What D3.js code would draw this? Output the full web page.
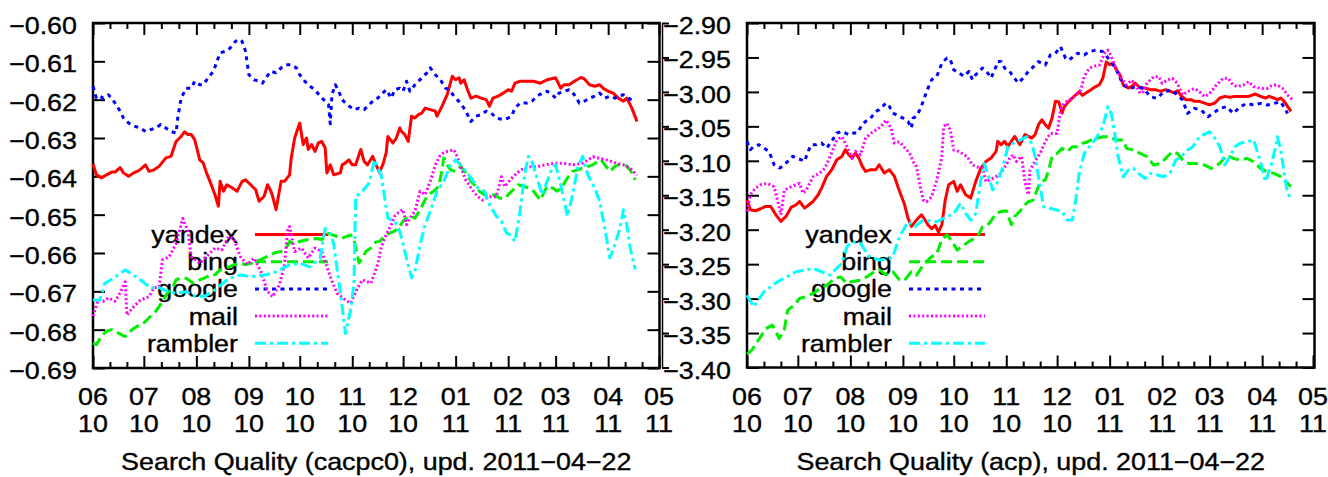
<!DOCTYPE html>
<html>
<head>
<meta charset="utf-8">
<script src="https://cdn.jsdelivr.net/npm/d3@7"></script>
<style>
  html, body { margin: 0; padding: 0; background: #fff; }
  svg { display: block; }
</style>
</head>
<body>
<div id="chart"></div>
<script>
// Search quality, two panels (cacpc0 and acp).
// x of every point = days since 2010-06-01

const seriesNames = ["yandex", "bing", "google", "mail", "rambler"];
const months = ["2010-06-01", "2010-07-01", "2010-08-01", "2010-09-01", "2010-10-01", "2010-11-01",
  "2010-12-01", "2011-01-01", "2011-02-01", "2011-03-01", "2011-04-01", "2011-05-01"];
const cacpcTicks = [-0.60, -0.61, -0.62, -0.63, -0.64, -0.65, -0.66, -0.67, -0.68, -0.69];
const acpTicks = [-2.90, -2.95, -3.00, -3.05, -3.10, -3.15, -3.20, -3.25, -3.30, -3.35, -3.40];

// ---- left panel: cacpc0 ----
const yandexCacpc = [[0,-0.6368],[2,-0.6396],[5,-0.6404],[8,-0.6396],[11,-0.6389],[13,-0.6389],[16,-0.6377],[18,-0.6391],[21,-0.6400],[24,-0.6391],[27,-0.6385],[29,-0.6378],[31,-0.6370],[33,-0.6387],[36,-0.6383],[39,-0.6374],[43,-0.6352],[46,-0.6348],[49,-0.6309],[52,-0.6296],[54,-0.6284],[56,-0.6291],[58,-0.6291],[60,-0.6304],[63,-0.6357],[65,-0.6365],[67,-0.6391],[69,-0.6413],[72,-0.6448],[74,-0.6478],[75,-0.6413],[77,-0.6439],[79,-0.6422],[82,-0.6430],[85,-0.6439],[88,-0.6413],[90,-0.6409],[93,-0.6422],[96,-0.6435],[98,-0.6465],[101,-0.6452],[103,-0.6422],[105,-0.6439],[106,-0.6452],[108,-0.6487],[111,-0.6413],[113,-0.6413],[116,-0.6396],[117,-0.6352],[119,-0.6300],[122,-0.6261],[124,-0.6317],[126,-0.6300],[127,-0.6330],[129,-0.6317],[131,-0.6335],[133,-0.6313],[135,-0.6309],[137,-0.6326],[138,-0.6391],[140,-0.6370],[142,-0.6396],[146,-0.6391],[147,-0.6370],[149,-0.6365],[151,-0.6357],[153,-0.6370],[155,-0.6370],[158,-0.6330],[160,-0.6361],[162,-0.6370],[165,-0.6348],[167,-0.6370],[169,-0.6389],[171,-0.6370],[173,-0.6339],[174,-0.6296],[177,-0.6313],[179,-0.6300],[181,-0.6274],[182,-0.6283],[184,-0.6291],[186,-0.6309],[188,-0.6243],[190,-0.6248],[192,-0.6239],[194,-0.6235],[196,-0.6222],[199,-0.6226],[202,-0.6230],[203,-0.6243],[206,-0.6217],[209,-0.6187],[212,-0.6139],[214,-0.6148],[216,-0.6143],[217,-0.6157],[219,-0.6148],[221,-0.6174],[223,-0.6196],[226,-0.6191],[229,-0.6196],[232,-0.6200],[234,-0.6217],[236,-0.6196],[239,-0.6191],[242,-0.6183],[245,-0.6174],[247,-0.6178],[249,-0.6157],[252,-0.6152],[256,-0.6152],[260,-0.6152],[264,-0.6157],[268,-0.6148],[273,-0.6143],[276,-0.6170],[278,-0.6161],[281,-0.6161],[284,-0.6152],[288,-0.6142],[290,-0.6146],[293,-0.6161],[296,-0.6165],[299,-0.6161],[301,-0.6170],[304,-0.6178],[307,-0.6183],[310,-0.6196],[313,-0.6204],[315,-0.6196],[318,-0.6222],[321,-0.6257]];
const bingCacpc = [[0,-0.6835],[2,-0.6839],[5,-0.6817],[8,-0.6804],[11,-0.6800],[15,-0.6809],[19,-0.6818],[23,-0.6800],[26,-0.6791],[29,-0.6787],[31,-0.6778],[34,-0.6765],[37,-0.6752],[39,-0.6740],[41,-0.6726],[44,-0.6704],[47,-0.6691],[49,-0.6670],[52,-0.6665],[55,-0.6666],[59,-0.6678],[63,-0.6670],[66,-0.6665],[69,-0.6657],[72,-0.6657],[75,-0.6644],[78,-0.6639],[81,-0.6635],[83,-0.6631],[87,-0.6627],[90,-0.6630],[94,-0.6626],[99,-0.6617],[103,-0.6609],[107,-0.6600],[111,-0.6596],[114,-0.6587],[116,-0.6570],[118,-0.6575],[122,-0.6570],[127,-0.6565],[132,-0.6562],[135,-0.6565],[139,-0.6549],[144,-0.6557],[147,-0.6561],[152,-0.6553],[154,-0.6565],[157,-0.6626],[159,-0.6613],[161,-0.6596],[164,-0.6587],[167,-0.6571],[169,-0.6570],[172,-0.6557],[175,-0.6548],[178,-0.6543],[181,-0.6530],[183,-0.6517],[185,-0.6509],[188,-0.6504],[190,-0.6509],[193,-0.6487],[196,-0.6461],[198,-0.6448],[201,-0.6439],[204,-0.6426],[206,-0.6383],[207,-0.6352],[209,-0.6370],[211,-0.6383],[214,-0.6387],[217,-0.6374],[220,-0.6391],[223,-0.6413],[225,-0.6422],[228,-0.6439],[231,-0.6448],[234,-0.6452],[237,-0.6448],[240,-0.6457],[243,-0.6457],[245,-0.6448],[248,-0.6435],[251,-0.6422],[254,-0.6426],[257,-0.6430],[260,-0.6439],[264,-0.6462],[266,-0.6443],[268,-0.6426],[271,-0.6430],[274,-0.6439],[277,-0.6426],[280,-0.6404],[283,-0.6387],[286,-0.6383],[289,-0.6378],[292,-0.6374],[295,-0.6370],[298,-0.6361],[300,-0.6357],[302,-0.6370],[305,-0.6387],[308,-0.6374],[310,-0.6370],[314,-0.6370],[317,-0.6383],[320,-0.6409]];
const googleCacpc = [[0,-0.6165],[2,-0.6196],[4,-0.6191],[6,-0.6196],[9,-0.6187],[11,-0.6196],[13,-0.6209],[16,-0.6230],[18,-0.6248],[21,-0.6261],[25,-0.6270],[28,-0.6274],[31,-0.6283],[34,-0.6278],[37,-0.6274],[40,-0.6265],[43,-0.6274],[46,-0.6283],[49,-0.6287],[50,-0.6248],[52,-0.6196],[55,-0.6170],[58,-0.6170],[60,-0.6152],[63,-0.6161],[65,-0.6161],[68,-0.6143],[71,-0.6126],[75,-0.6078],[78,-0.6074],[81,-0.6065],[84,-0.6048],[87,-0.6043],[88,-0.6048],[90,-0.6074],[92,-0.6135],[95,-0.6148],[98,-0.6152],[100,-0.6157],[102,-0.6143],[105,-0.6126],[108,-0.6130],[111,-0.6117],[114,-0.6109],[117,-0.6109],[120,-0.6117],[122,-0.6135],[125,-0.6152],[128,-0.6165],[131,-0.6174],[134,-0.6191],[137,-0.6204],[139,-0.6213],[140,-0.6263],[141,-0.6187],[143,-0.6161],[145,-0.6178],[147,-0.6200],[150,-0.6213],[154,-0.6226],[157,-0.6222],[160,-0.6226],[163,-0.6213],[166,-0.6200],[168,-0.6196],[171,-0.6183],[173,-0.6174],[176,-0.6196],[178,-0.6174],[181,-0.6170],[183,-0.6178],[185,-0.6152],[187,-0.6178],[190,-0.6161],[192,-0.6152],[195,-0.6139],[197,-0.6130],[199,-0.6117],[202,-0.6135],[205,-0.6148],[208,-0.6170],[210,-0.6174],[214,-0.6196],[217,-0.6209],[220,-0.6230],[223,-0.6257],[226,-0.6243],[229,-0.6239],[232,-0.6230],[235,-0.6235],[238,-0.6248],[242,-0.6252],[245,-0.6248],[247,-0.6243],[249,-0.6222],[252,-0.6209],[256,-0.6209],[259,-0.6204],[262,-0.6191],[265,-0.6183],[268,-0.6178],[271,-0.6187],[273,-0.6196],[275,-0.6183],[278,-0.6178],[281,-0.6174],[284,-0.6187],[287,-0.6209],[290,-0.6204],[293,-0.6196],[296,-0.6191],[299,-0.6183],[302,-0.6196],[305,-0.6191],[308,-0.6196],[310,-0.6191],[313,-0.6187],[316,-0.6196],[319,-0.6204]];
const mailCacpc = [[0,-0.6765],[3,-0.6722],[6,-0.6726],[9,-0.6717],[13,-0.6726],[16,-0.6704],[19,-0.6675],[20,-0.6762],[24,-0.6740],[28,-0.6723],[33,-0.6714],[36,-0.6691],[39,-0.6688],[41,-0.6618],[45,-0.6610],[49,-0.6575],[53,-0.6510],[56,-0.6543],[58,-0.6610],[63,-0.6627],[68,-0.6605],[72,-0.6587],[76,-0.6592],[80,-0.6557],[83,-0.6562],[87,-0.6610],[91,-0.6630],[95,-0.6613],[99,-0.6648],[103,-0.6700],[106,-0.6714],[110,-0.6683],[113,-0.6630],[115,-0.6535],[116,-0.6531],[119,-0.6596],[123,-0.6587],[127,-0.6613],[131,-0.6587],[135,-0.6596],[140,-0.6662],[144,-0.6705],[149,-0.6723],[152,-0.6731],[156,-0.6692],[159,-0.6670],[164,-0.6679],[168,-0.6630],[170,-0.6587],[173,-0.6552],[176,-0.6526],[178,-0.6504],[181,-0.6491],[183,-0.6487],[185,-0.6526],[187,-0.6509],[190,-0.6491],[193,-0.6439],[196,-0.6448],[199,-0.6413],[202,-0.6370],[205,-0.6344],[208,-0.6336],[213,-0.6331],[215,-0.6349],[217,-0.6375],[220,-0.6410],[224,-0.6436],[227,-0.6453],[230,-0.6462],[234,-0.6453],[238,-0.6453],[241,-0.6401],[243,-0.6427],[246,-0.6410],[250,-0.6392],[254,-0.6379],[258,-0.6375],[262,-0.6375],[267,-0.6370],[272,-0.6366],[278,-0.6366],[283,-0.6370],[289,-0.6366],[295,-0.6349],[299,-0.6353],[303,-0.6357],[309,-0.6366],[313,-0.6370],[317,-0.6379],[321,-0.6397]];
const ramblerCacpc = [[0,-0.6722],[4,-0.6723],[7,-0.6679],[12,-0.6666],[19,-0.6644],[28,-0.6670],[34,-0.6692],[38,-0.6688],[44,-0.6700],[49,-0.6705],[55,-0.6701],[61,-0.6714],[66,-0.6713],[72,-0.6696],[78,-0.6674],[83,-0.6662],[87,-0.6657],[93,-0.6662],[102,-0.6657],[108,-0.6649],[116,-0.6631],[122,-0.6627],[128,-0.6636],[134,-0.6614],[137,-0.6536],[140,-0.6549],[142,-0.6575],[146,-0.6705],[149,-0.6810],[152,-0.6749],[154,-0.6679],[155,-0.6453],[159,-0.6439],[163,-0.6417],[166,-0.6357],[170,-0.6396],[174,-0.6509],[178,-0.6517],[181,-0.6543],[184,-0.6596],[188,-0.6665],[190,-0.6648],[193,-0.6578],[196,-0.6526],[199,-0.6491],[203,-0.6439],[207,-0.6413],[211,-0.6370],[214,-0.6357],[217,-0.6370],[220,-0.6387],[223,-0.6404],[227,-0.6430],[231,-0.6439],[234,-0.6474],[238,-0.6504],[241,-0.6517],[244,-0.6548],[246,-0.6552],[249,-0.6570],[252,-0.6491],[255,-0.6387],[257,-0.6348],[259,-0.6361],[262,-0.6404],[265,-0.6448],[268,-0.6413],[271,-0.6378],[273,-0.6370],[276,-0.6422],[280,-0.6504],[283,-0.6448],[286,-0.6378],[289,-0.6348],[292,-0.6396],[296,-0.6430],[299,-0.6465],[302,-0.6535],[305,-0.6613],[308,-0.6578],[311,-0.6535],[313,-0.6487],[315,-0.6526],[317,-0.6587],[320,-0.6643]];

// ---- right panel: acp ----
const yandexAcp = [[0,-3.1565],[2,-3.1711],[5,-3.1725],[8,-3.1696],[11,-3.1662],[14,-3.1662],[17,-3.1783],[20,-3.1880],[23,-3.1807],[26,-3.1677],[29,-3.1638],[31,-3.1590],[34,-3.1686],[36,-3.1648],[39,-3.1590],[42,-3.1493],[44,-3.1396],[47,-3.1227],[50,-3.1130],[53,-3.0985],[56,-3.0936],[58,-3.0839],[60,-3.0912],[62,-3.0960],[64,-3.0888],[66,-3.0960],[68,-3.1081],[70,-3.1154],[73,-3.1130],[76,-3.1130],[78,-3.1057],[81,-3.1178],[84,-3.1130],[87,-3.1227],[89,-3.1372],[93,-3.1638],[95,-3.1832],[97,-3.1953],[99,-3.1890],[101,-3.1832],[103,-3.1783],[105,-3.1856],[107,-3.1938],[109,-3.1986],[111,-3.1938],[113,-3.2035],[115,-3.1928],[117,-3.1565],[119,-3.1348],[122,-3.1299],[124,-3.1444],[126,-3.1348],[129,-3.1493],[132,-3.1541],[135,-3.1299],[138,-3.1106],[141,-3.1009],[144,-3.0960],[147,-3.0864],[148,-3.0718],[150,-3.0767],[152,-3.0718],[154,-3.0791],[156,-3.0718],[158,-3.0646],[161,-3.0767],[164,-3.0621],[166,-3.0646],[168,-3.0670],[170,-3.0622],[172,-3.0476],[174,-3.0404],[176,-3.0476],[178,-3.0525],[180,-3.0380],[182,-3.0137],[184,-3.0147],[186,-3.0307],[187,-3.0225],[189,-3.0162],[191,-3.0113],[194,-3.0041],[196,-3.0002],[198,-3.0050],[200,-3.0016],[203,-2.9968],[205,-2.9934],[208,-2.9895],[210,-2.9799],[212,-2.9566],[214,-2.9605],[216,-2.9581],[218,-2.9678],[220,-2.9750],[222,-2.9895],[225,-2.9944],[227,-2.9920],[229,-2.9871],[232,-2.9944],[235,-2.9944],[238,-2.9968],[241,-2.9968],[244,-2.9992],[247,-2.9968],[250,-2.9992],[252,-3.0016],[254,-2.9983],[256,-3.0050],[259,-3.0113],[262,-3.0113],[264,-3.0137],[267,-3.0137],[270,-3.0162],[273,-3.0186],[276,-3.0162],[279,-3.0089],[282,-3.0065],[285,-3.0079],[288,-3.0065],[292,-3.0065],[296,-3.0065],[300,-3.0031],[303,-3.0065],[306,-3.0089],[308,-3.0065],[311,-3.0089],[313,-3.0113],[315,-3.0089],[317,-3.0137],[319,-3.0210],[321,-3.0283]];
const bingAcp = [[0,-3.3806],[3,-3.3743],[8,-3.3555],[11,-3.3438],[15,-3.3385],[17,-3.3477],[19,-3.3579],[22,-3.3453],[24,-3.3167],[28,-3.3090],[31,-3.2998],[35,-3.2969],[39,-3.2925],[43,-3.2858],[47,-3.2804],[51,-3.2727],[55,-3.2683],[59,-3.2780],[62,-3.2751],[67,-3.2732],[71,-3.2679],[75,-3.2611],[78,-3.2582],[82,-3.2654],[86,-3.2611],[90,-3.2727],[93,-3.2732],[97,-3.2611],[100,-3.2659],[104,-3.2514],[108,-3.2412],[112,-3.2345],[115,-3.2146],[118,-3.2074],[121,-3.2170],[124,-3.2296],[127,-3.2243],[131,-3.2170],[136,-3.2103],[139,-3.1957],[143,-3.1909],[147,-3.1764],[150,-3.1735],[153,-3.1725],[156,-3.1928],[158,-3.1807],[161,-3.1735],[164,-3.1638],[166,-3.1594],[169,-3.1570],[173,-3.1304],[176,-3.1280],[178,-3.1135],[180,-3.0941],[183,-3.0893],[186,-3.0820],[189,-3.0868],[192,-3.0796],[195,-3.0796],[198,-3.0747],[201,-3.0723],[203,-3.0699],[206,-3.0675],[210,-3.0651],[214,-3.0651],[218,-3.0699],[222,-3.0699],[224,-3.0820],[228,-3.0844],[232,-3.0893],[236,-3.0941],[240,-3.1062],[244,-3.1038],[248,-3.0941],[251,-3.0868],[254,-3.0893],[258,-3.1014],[261,-3.1038],[265,-3.1038],[270,-3.1062],[274,-3.1110],[279,-3.1038],[283,-3.0917],[287,-3.0965],[291,-3.0989],[295,-3.0965],[299,-3.1014],[303,-3.1110],[307,-3.1159],[311,-3.1183],[315,-3.1231],[319,-3.1328],[321,-3.1377]];
const googleAcp = [[0,-3.0718],[2,-3.0839],[4,-3.0791],[7,-3.0767],[10,-3.0815],[13,-3.0864],[16,-3.1057],[19,-3.1106],[21,-3.1081],[24,-3.1009],[27,-3.0936],[29,-3.0960],[32,-3.0985],[34,-3.1009],[36,-3.0864],[38,-3.0767],[41,-3.0767],[44,-3.0743],[47,-3.0815],[50,-3.0718],[53,-3.0597],[56,-3.0573],[60,-3.0621],[63,-3.0597],[65,-3.0597],[68,-3.0476],[70,-3.0428],[73,-3.0380],[76,-3.0283],[78,-3.0258],[80,-3.0210],[82,-3.0162],[84,-3.0210],[86,-3.0307],[88,-3.0331],[90,-3.0355],[92,-3.0380],[95,-3.0428],[97,-3.0525],[98,-3.0380],[100,-3.0355],[102,-3.0258],[104,-3.0137],[106,-2.9992],[109,-2.9823],[112,-2.9774],[115,-2.9581],[118,-2.9508],[120,-2.9532],[122,-2.9678],[125,-2.9726],[128,-2.9774],[131,-2.9702],[133,-2.9823],[135,-2.9750],[139,-2.9653],[142,-2.9726],[144,-2.9799],[147,-2.9629],[148,-2.9557],[150,-2.9557],[152,-2.9653],[155,-2.9702],[157,-2.9774],[160,-2.9871],[163,-2.9799],[166,-2.9702],[168,-2.9658],[172,-2.9561],[176,-2.9610],[179,-2.9465],[182,-2.9440],[185,-2.9344],[188,-2.9513],[190,-2.9537],[195,-2.9440],[199,-2.9465],[202,-2.9416],[206,-2.9392],[210,-2.9416],[214,-2.9537],[218,-2.9682],[222,-2.9900],[226,-2.9949],[230,-2.9924],[234,-2.9949],[238,-3.0070],[242,-3.0094],[246,-2.9997],[251,-2.9973],[257,-3.0118],[260,-3.0312],[264,-3.0239],[268,-3.0263],[272,-3.0360],[275,-3.0312],[279,-3.0239],[283,-3.0215],[287,-3.0312],[291,-3.0215],[295,-3.0167],[299,-3.0191],[303,-3.0167],[307,-3.0191],[311,-3.0167],[315,-3.0142],[319,-3.0312]];
const mailAcp = [[0,-3.1735],[2,-3.1493],[5,-3.1396],[8,-3.1348],[12,-3.1328],[16,-3.1377],[18,-3.1570],[20,-3.1783],[22,-3.1425],[26,-3.1377],[31,-3.1328],[33,-3.1469],[35,-3.1425],[39,-3.1231],[43,-3.1178],[46,-3.1106],[49,-3.0941],[53,-3.0699],[56,-3.0651],[59,-3.0796],[62,-3.0965],[64,-3.0864],[67,-3.0912],[70,-3.0670],[73,-3.0602],[79,-3.0505],[82,-3.0409],[85,-3.0525],[87,-3.0743],[90,-3.0723],[96,-3.0893],[98,-3.1009],[100,-3.1086],[102,-3.1348],[104,-3.1570],[106,-3.1594],[109,-3.1522],[112,-3.1280],[115,-3.0941],[116,-3.0505],[118,-3.0457],[120,-3.0554],[122,-3.0844],[125,-3.0864],[130,-3.0941],[133,-3.1057],[135,-3.1086],[139,-3.1106],[141,-3.1304],[145,-3.1256],[149,-3.1202],[153,-3.1057],[155,-3.0960],[157,-3.0912],[159,-3.1009],[162,-3.0936],[164,-3.1299],[166,-3.1493],[167,-3.1135],[171,-3.0965],[173,-3.0893],[176,-3.0723],[179,-3.0602],[183,-3.0602],[185,-3.0263],[187,-3.0167],[190,-3.0118],[193,-3.0070],[197,-2.9973],[199,-2.9779],[202,-2.9658],[204,-2.9634],[208,-2.9610],[211,-2.9440],[213,-2.9392],[215,-2.9489],[218,-2.9682],[221,-2.9803],[224,-2.9900],[227,-2.9828],[230,-2.9924],[232,-3.0021],[234,-2.9997],[236,-2.9876],[240,-2.9779],[243,-2.9779],[245,-2.9876],[248,-2.9828],[251,-2.9803],[254,-2.9876],[257,-3.0045],[260,-2.9997],[264,-2.9949],[267,-2.9997],[270,-3.0070],[273,-3.0021],[277,-2.9900],[281,-2.9803],[284,-2.9803],[286,-2.9876],[289,-2.9924],[293,-2.9900],[296,-2.9852],[299,-2.9924],[303,-2.9949],[307,-2.9949],[310,-2.9900],[313,-2.9900],[316,-2.9949],[319,-3.0045],[322,-3.0118]];
const ramblerAcp = [[0,-3.2950],[4,-3.3118],[10,-3.2901],[18,-3.2756],[29,-3.2611],[39,-3.2563],[49,-3.2659],[56,-3.2485],[59,-3.2248],[62,-3.2170],[67,-3.2199],[72,-3.2388],[78,-3.2441],[84,-3.2422],[86,-3.2393],[90,-3.2103],[95,-3.1885],[99,-3.1953],[104,-3.1861],[112,-3.1885],[118,-3.1812],[122,-3.1764],[126,-3.1619],[129,-3.1764],[132,-3.1861],[135,-3.1764],[138,-3.1280],[140,-3.1038],[142,-3.1183],[145,-3.1425],[148,-3.1304],[151,-3.1086],[154,-3.0796],[157,-3.0747],[161,-3.0699],[165,-3.0651],[168,-3.0747],[170,-3.0941],[173,-3.1377],[175,-3.1667],[179,-3.1691],[183,-3.1715],[186,-3.1740],[189,-3.1861],[192,-3.1861],[194,-3.1570],[196,-3.1183],[199,-3.0893],[202,-3.0796],[206,-3.0675],[210,-3.0505],[213,-3.0215],[215,-3.0312],[217,-3.0602],[219,-3.0941],[222,-3.1231],[225,-3.1135],[228,-3.1110],[231,-3.1183],[235,-3.1256],[238,-3.1183],[242,-3.1207],[246,-3.1231],[250,-3.1159],[253,-3.0989],[256,-3.0941],[260,-3.0844],[263,-3.0796],[267,-3.0651],[271,-3.0602],[273,-3.0578],[275,-3.0626],[279,-3.0796],[282,-3.1062],[285,-3.0941],[288,-3.0796],[291,-3.0747],[295,-3.0723],[299,-3.0699],[303,-3.1014],[306,-3.1304],[309,-3.1086],[312,-3.0796],[313,-3.0651],[315,-3.0844],[317,-3.1183],[319,-3.1473],[321,-3.1541]];

// gnuplot-ish line styles
const colors = ["#ff0000", "#00ee00", "#0000ff", "#ff00ff", "#00ffff"];
const dashes = [null, "11,5", "4,4.5", "2,2.4", "11,4,3,4"];

const width = 1328, height = 477;
const FONT = "'Liberation Sans', Arial, Helvetica, sans-serif";
const FS = 24;        // font size
const SX = 1.12;      // the source png is a bit stretched sideways
const LW = 3;         // plot line width

const parseDay = d3.timeParse("%Y-%m-%d");
const startDate = parseDay(months[0]);
const monthDates = months.map(parseDay);
const toDate = d => d3.timeDay.offset(startDate, d);

const panels = [
  { title: "Search Quality (cacpc0), upd. 2011\u221204\u221222",
    series: [yandexCacpc, bingCacpc, googleCacpc, mailCacpc, ramblerCacpc],
    ticks: cacpcTicks, left: 93, right: 659, frameRight: 659.5, top: 23, bottom: 368,
    legendText: 238, legendLine: [255, 328], legendY: 234.5 },
  { title: "Search Quality (acp), upd. 2011\u221204\u221222",
    series: [yandexAcp, bingAcp, googleAcp, mailAcp, ramblerAcp],
    ticks: acpTicks, left: 747, right: 1313, frameRight: 1314.5, top: 23, bottom: 367.5,
    legendText: 892, legendLine: [909, 985], legendY: 234.5 }
];

const svg = d3.select("#chart")
  .append("svg")
  .attr("width", width)
  .attr("height", height)
  .style("font-family", FONT)
  .style("font-size", FS + "px");

const minus = s => s.replace("-", "\u2212");
const fmt2 = d3.format(".2f");

function label(g, text, x, y, anchor) {
  return g.append("text")
    .attr("transform", `translate(${x},${y}) scale(${SX},1)`)
    .attr("text-anchor", anchor)
    .attr("fill", "#000")
    .attr("stroke", "#000")
    .attr("stroke-width", 0.35)
    .text(text);
}

panels.forEach(p => {
  const x = d3.scaleTime()
    .domain([monthDates[0], monthDates[monthDates.length - 1]])
    .range([p.left, p.right]);
  const y = d3.scaleLinear()
    .domain(d3.extent(p.ticks))
    .range([p.bottom, p.top]);
  p.y = y;

  const g = svg.append("g");

  // minor x ticks: thirds of each month
  const minor = [];
  for (let i = 0; i < monthDates.length - 1; i++) {
    const a = monthDates[i].getTime(), b = monthDates[i + 1].getTime();
    minor.push(new Date(a + (b - a) / 3), new Date(a + 2 * (b - a) / 3));
  }

  const axes = [
    d3.axisBottom(x).tickValues(monthDates).tickSize(-12),
    d3.axisBottom(x).tickValues(minor).tickSize(-6),
    d3.axisTop(x).tickValues(monthDates).tickSize(-12),
    d3.axisTop(x).tickValues(minor).tickSize(-6)
  ];
  axes.forEach((ax, i) => {
    g.append("g")
      .attr("transform", `translate(0,${i < 2 ? p.bottom : p.top})`)
      .call(ax.tickSizeOuter(0).tickFormat(""))
      .call(s => s.select(".domain").remove())
      .call(s => s.selectAll("line").attr("stroke-width", 2));
  });

  // y axis on the left with labels, mirrored on the right
  g.append("g")
    .attr("transform", `translate(${p.left},0)`)
    .call(d3.axisLeft(y).tickValues(p.ticks).tickSize(-12).tickSizeOuter(0)
      .tickFormat(d => minus(fmt2(d))))
    .call(s => s.select(".domain").remove())
    .call(s => s.selectAll("line").attr("stroke-width", 2))
    .call(s => s.selectAll("text")
      .attr("x", -16 / SX)
      .attr("dy", "10.5")
      .attr("transform", `scale(${SX},1)`)
      .attr("fill", "#000")
      .attr("stroke", "#000")
      .attr("stroke-width", 0.35)
      .style("font-family", FONT)
      .style("font-size", FS + "px"));

  g.append("g")
    .attr("transform", `translate(${p.frameRight},0)`)
    .call(d3.axisRight(y).tickValues(p.ticks).tickSize(-12).tickSizeOuter(0).tickFormat(""))
    .call(s => s.select(".domain").remove())
    .call(s => s.selectAll("line").attr("stroke-width", 2));

  // frame
  g.append("rect")
    .attr("x", p.left).attr("y", p.top)
    .attr("width", p.frameRight - p.left).attr("height", p.bottom - p.top)
    .attr("fill", "none").attr("stroke", "#000").attr("stroke-width", 2.5);

  // month / year labels
  monthDates.forEach(m => {
    label(g, d3.timeFormat("%m")(m), x(m), 405, "middle");
    label(g, d3.timeFormat("%y")(m), x(m), 431.5, "middle");
  });

  label(g, p.title, (p.left + p.frameRight) / 2, 470, "middle");

  // legend text
  seriesNames.forEach((name, i) => {
    label(g, name, p.legendText, p.legendY + i * 27.2 + 8.5, "end");
  });

  // lines and legend samples
  const line = d3.line()
    .x(d => x(toDate(d[0])))
    .y(d => y(d[1]));

  p.series.forEach((data, i) => {
    const sy = p.legendY + i * 27.2;
    g.append("line")
      .attr("x1", p.legendLine[0]).attr("x2", p.legendLine[1])
      .attr("y1", sy).attr("y2", sy)
      .attr("stroke", colors[i])
      .attr("stroke-width", LW)
      .attr("stroke-dasharray", dashes[i]);

    g.append("path")
      .datum(data)
      .attr("d", line)
      .attr("fill", "none")
      .attr("stroke", colors[i])
      .attr("stroke-width", LW)
      .attr("stroke-linejoin", "round")
      .attr("stroke-dasharray", dashes[i]);
  });
});

// the right-hand png starts with a thin border line carrying its own y ticks
svg.append("g")
  .attr("transform", "translate(662,0)")
  .call(d3.axisRight(panels[1].y).tickValues(acpTicks).tickSize(7).tickSizeOuter(0).tickFormat(""))
  .call(s => s.selectAll("line").attr("stroke-width", 2))
  .call(s => s.select(".domain").attr("stroke-width", 1.5));
</script>
</body>
</html>
